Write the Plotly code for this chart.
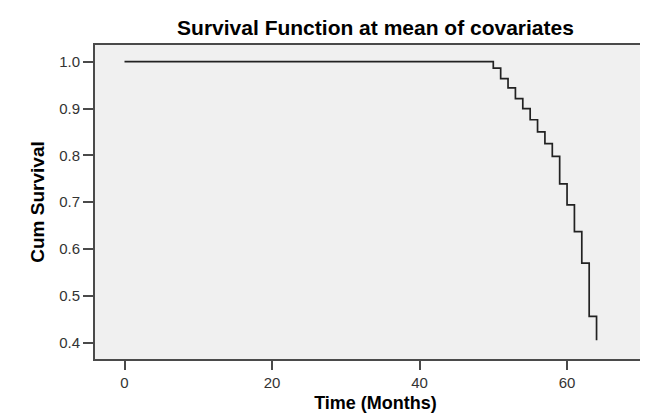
import plotly.graph_objects as go

# Data (step survival curve)
time_months = [0, 50, 51, 52, 53, 54, 55, 56, 57, 58, 59, 60, 61, 62, 63, 64]
cum_survival = [1.0, 0.9865, 0.964, 0.944, 0.921, 0.900, 0.876, 0.850, 0.825,
                0.798, 0.739, 0.694, 0.637, 0.570, 0.456, 0.405]
x_ticks = [0, 20, 40, 60]
y_ticks = [0.4, 0.5, 0.6, 0.7, 0.8, 0.9, 1.0]

fig = go.Figure()
fig.add_trace(go.Scatter(
    x=time_months, y=cum_survival, mode="lines", line_shape="hv",
    line=dict(color="#222222", width=1.7), showlegend=False,
    hoverinfo="skip"))

font_family = "Liberation Sans, Arial, sans-serif"
fig.update_layout(
    width=648, height=417,
    margin=dict(l=87, r=0, t=37, b=66),
    paper_bgcolor="white", plot_bgcolor="#f0f0f0",
    font=dict(family=font_family, color="#333333", size=15),
    title=dict(text="<b>Survival Function at mean of covariates</b>",
               x=0.5, xref="paper", xanchor="center",
               y=1 - 20 / 417, yref="container", yanchor="middle",
               font=dict(size=21, color="black", family=font_family)),
)
fig.update_xaxes(
    range=[-4, 72.06], tickvals=x_ticks, ticktext=[str(v) for v in x_ticks],
    tickfont=dict(size=15, color="#333333"),
    showgrid=False, zeroline=False, showline=True, linecolor="#4a4a4a",
    linewidth=2, mirror=True, ticks="outside", ticklen=9, tickwidth=2,
    tickcolor="#4a4a4a",
    title=dict(text="<b>Time (Months)</b>", standoff=6,
               font=dict(size=18, color="black")))
fig.update_yaxes(
    range=[0.365, 1.0357], tickvals=y_ticks,
    ticktext=[f"{v:.1f}" for v in y_ticks],
    tickfont=dict(size=15, color="#333333"),
    showgrid=False, zeroline=False, showline=True, linecolor="#4a4a4a",
    linewidth=2, ticks="outside", ticklen=10, tickwidth=2,
    tickcolor="#4a4a4a",
    title=dict(text="<b>Cum Survival</b>", standoff=9,
               font=dict(size=19, color="black")))

fig.write_html("out.html")
